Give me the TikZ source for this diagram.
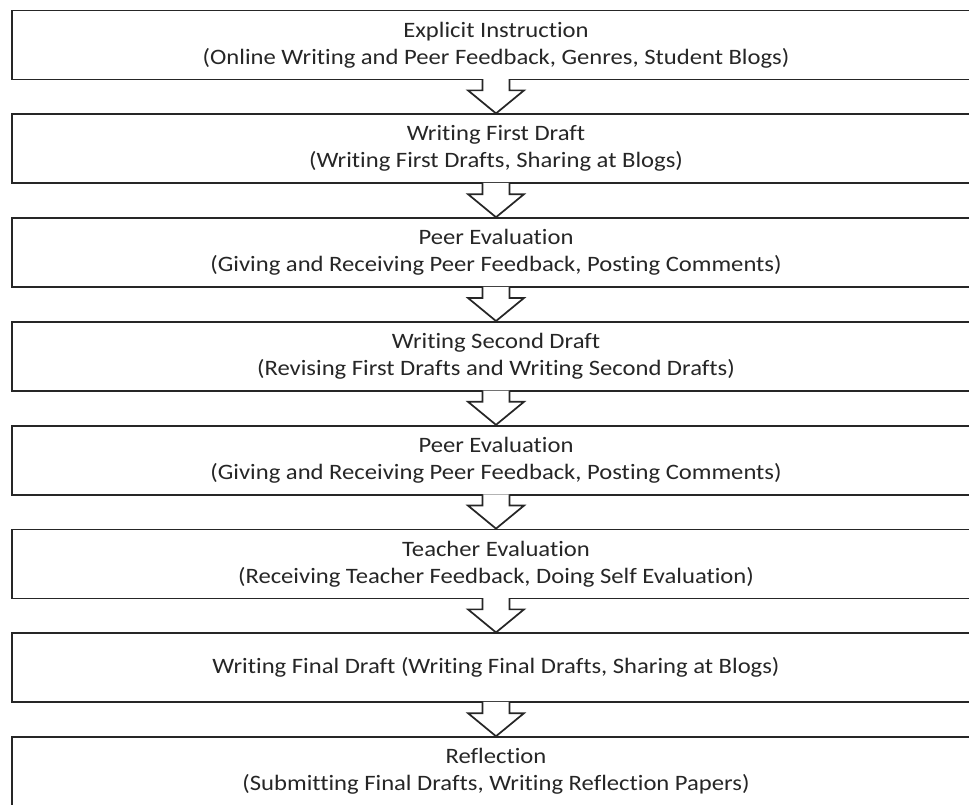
\documentclass[tikz,border=0pt]{standalone}
\usepackage{fontspec}
\setmainfont{Carlito}[FakeStretch=1.12,Ligatures={NoCommon}]
\usetikzlibrary{calc}
\begin{document}
\begin{tikzpicture}[x=0.75pt,y=-0.75pt,
  box/.style={draw=black!85, line width=1.3pt, fill=white,
    minimum width=968*0.75pt, minimum height=69*0.75pt, inner sep=0pt,
    align=center, font=\fontsize{16.5}{20.25}\selectfont, text=black!85},
  arr/.style={draw=black!85, line width=1.3pt, fill=white, line join=miter}]
\useasboundingbox (0,0) rectangle (969,804);
\node[box] (b1) at (496,45.0) {Explicit Instruction\\(Online Writing and Peer Feedback, Genres, Student Blogs)};
\node[box] (b2) at (496,148.8) {Writing First Draft\\(Writing First Drafts, Sharing at Blogs)};
\node[box] (b3) at (496,252.6) {Peer Evaluation\\(Giving and Receiving Peer Feedback, Posting Comments)};
\node[box] (b4) at (496,356.4) {Writing Second Draft\\(Revising First Drafts and Writing Second Drafts)};
\node[box] (b5) at (496,460.2) {Peer Evaluation\\(Giving and Receiving Peer Feedback, Posting Comments)};
\node[box] (b6) at (496,564.0) {Teacher Evaluation\\(Receiving Teacher Feedback, Doing Self Evaluation)};
\node[box] (b7) at (496,667.8) {Writing Final Draft (Writing Final Drafts, Sharing at Blogs)};
\node[box] (b8) at (496,771.6) {Reflection\\(Submitting Final Drafts, Writing Reflection Papers)};
\foreach \a/\b in {b1/b2,b2/b3,b3/b4,b4/b5,b5/b6,b6/b7,b7/b8}{
  \draw[arr] ($(\a.south)+(-13.5,-1.2)$) -- ++(0,11.2) -- ++(-14.5,0) -- (\b.north)
    -- ($(\a.south)+(28,10)$) -- ++(-14.5,0) -- ++(0,-11.2);
}
\end{tikzpicture}
\end{document}
